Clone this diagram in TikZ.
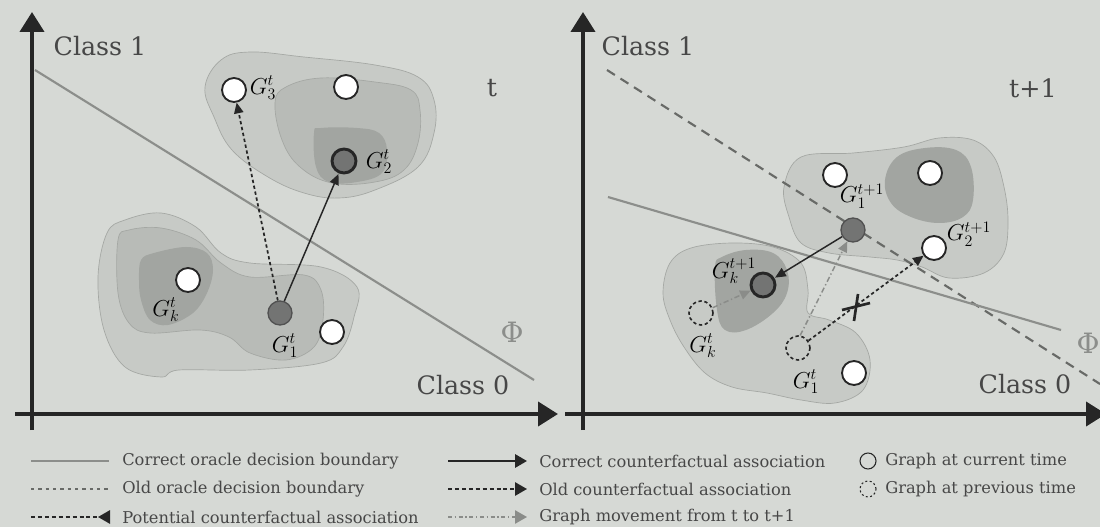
\documentclass[tikz,border=0pt]{standalone}
\usepackage{fontspec}
\setmainfont{DejaVu Serif}
\usetikzlibrary{arrows.meta}
\definecolor{bgc}{HTML}{D6D9D5}
\definecolor{blobouter}{HTML}{C7CAC6}
\definecolor{blobmid}{HTML}{B8BBB7}
\definecolor{blobdark}{HTML}{A2A5A1}
\definecolor{blobedge}{HTML}{A4A7A3}
\definecolor{nodedark}{HTML}{737473}
\definecolor{inkc}{HTML}{262626}
\definecolor{greyline}{HTML}{8C8E8B}
\definecolor{oldline}{HTML}{686A67}
\definecolor{movec}{HTML}{8A8C89}
\newcommand\bigtxt{\fontsize{19}{22}\selectfont}
\newcommand\lbltxt{\fontsize{16.5}{18}\selectfont}
\newcommand\legtxt{\fontsize{12.2}{14}\selectfont}
\tikzset{
  axisline/.style={line width=3pt, draw=inkc, -{Triangle[width=18pt,length=15pt]}},
  blobA/.style={fill=blobouter, draw=blobedge, line width=0.5pt},
  blobB/.style={fill=blobmid, draw=blobedge, line width=0.5pt},
  blobC/.style={fill=blobdark, draw=none},
  whitenode/.style={circle, minimum size=18pt, inner sep=0pt, fill=white, draw=inkc, line width=1.4pt},
  darknode/.style={circle, minimum size=18pt, inner sep=0pt, fill=nodedark, draw=inkc!80, line width=1pt},
  darkthick/.style={circle, minimum size=18pt, inner sep=0pt, fill=nodedark, draw=inkc, line width=2.2pt},
  prevnode/.style={circle, minimum size=18pt, inner sep=0pt, draw=inkc, line width=1.2pt, dash pattern=on 2.5pt off 2pt},
  glabel/.style={inner sep=0pt, font=\lbltxt},
  bigtext/.style={inner sep=0pt, font=\bigtxt, text=inkc!85},
  legtext/.style={inner sep=0pt, anchor=west, font=\legtxt, text=inkc!85},
  corrbound/.style={draw=greyline, line width=1.6pt},
  oldbound/.style={draw=oldline, line width=1.6pt, dash pattern=on 7pt off 5pt},
  corrassoc/.style={draw=inkc, line width=1.1pt, -{Triangle[width=7pt,length=8pt]}, shorten >=0.5pt},
  oldassoc/.style={draw=inkc, line width=1.3pt, dash pattern=on 2.5pt off 2pt, -{Triangle[width=7pt,length=8pt]}},
  moveassoc/.style={draw=movec, line width=1.1pt, dash pattern=on 4pt off 2pt on 1pt off 2pt, -{Triangle[width=7pt,length=8pt]}},
  legarrow/.style={-{Triangle[width=10pt,length=9pt]}},
}
\begin{document}
\begin{tikzpicture}[x=0.75pt,y=-0.75pt]
\fill[bgc] (0,0) rectangle (1100,527);
\useasboundingbox (0,0) rectangle (1100,527);

% ================= LEFT PANEL =================
% top blob
\path[blobA] plot[smooth cycle, tension=0.65] coordinates {(205,87) (221,60) (250,52) (304,57) (375,65) (418,77) (434,100) (434,133) (418,167) (375,190) (339,198) (304,193) (268,177) (232,150) (214,117)};
\path[blobB] plot[smooth cycle, tension=0.65] coordinates {(275,103) (286,87) (321,78) (375,82) (411,90) (420,110) (418,143) (404,170) (375,182) (332,183) (300,167) (282,140)};
\path[blobC] plot[smooth cycle, tension=0.65] coordinates {(314,133) (321,128) (357,128) (379,133) (387,150) (382,173) (357,182) (329,182) (316,167)};
% bottom blob
\path[blobA] plot[smooth cycle, tension=0.6] coordinates {(98,277) (107,233) (125,220) (161,213) (196,227) (221,253) (250,263) (321,267) (357,287) (354,317) (343,347) (321,363) (250,370) (179,370) (161,377) (125,367) (104,330)};
\path[blobB] plot[smooth cycle, tension=0.6] coordinates {(118,240) (129,230) (161,228) (196,240) (221,263) (250,277) (304,275) (321,290) (323,320) (314,347) (286,360) (250,353) (229,337) (200,330) (150,333) (129,323) (118,293)};
\path[blobC] plot[smooth cycle, tension=0.6] coordinates {(141,260) (154,253) (186,247) (207,253) (213,270) (207,293) (193,313) (168,325) (150,320) (141,300) (139,280)};

% boundary
\coordinate (lb1) at (35,70);
\coordinate (lb2) at (534,380);
\draw[corrbound] (lb1) -- (lb2);

% axes
\coordinate (lyo) at (32,430);
\coordinate (lyt) at (32,12);
\coordinate (lxo) at (15,414);
\coordinate (lxt) at (558,414);
\draw[axisline] (lyo) -- (lyt);
\draw[axisline] (lxo) -- (lxt);

% texts
\node[bigtext] (lc1) at (100,46) {Class 1};
\node[bigtext] (lc0) at (463,385) {Class 0};
\node[bigtext] (lt) at (492,88) {t};
\node[inner sep=0pt, font=\fontsize{21}{22}\selectfont, text=greyline] (lphi) at (512,332) {Φ};

% nodes
\node[whitenode] (n3) at (234,90) {};
\node[whitenode] (nw) at (346,87) {};
\node[darkthick] (n2) at (344,161) {};
\node[whitenode] (nk) at (188,280) {};
\node[darknode] (n1) at (280,313) {};
\node[whitenode] (nw2) at (332,332) {};

\node[glabel] (l3) at (263,88) {$G^t_3$};
\node[glabel] (l2) at (379,162) {$G^t_2$};
\node[glabel] (lk) at (166,310) {$G^t_k$};
\node[glabel] (l1) at (285,346) {$G^t_1$};

\draw[oldassoc] (n1.100) -- (n3);
\draw[corrassoc] (n1.70) -- (n2);

% ================= RIGHT PANEL =================
\path[blobA] plot[smooth cycle, tension=0.6] coordinates {(784,187) (801,157) (853,153) (904,147) (939,138) (973,140) (994,157) (1004,187) (1008,220) (1004,253) (984,273) (949,278) (922,267) (897,260) (870,257) (829,253) (801,243) (789,217)};
\path[blobC] plot[smooth cycle, tension=0.65] coordinates {(885,180) (897,157) (925,148) (956,150) (971,167) (973,200) (963,217) (939,223) (911,217) (891,203)};
\path[blobA] plot[smooth cycle, tension=0.6] coordinates {(663,293) (670,263) (691,248) (732,243) (773,247) (801,263) (808,290) (808,313) (829,320) (856,333) (870,360) (863,390) (835,403) (801,400) (767,393) (732,387) (705,373) (684,347) (670,320)};
\path[blobC] plot[smooth cycle, tension=0.65] coordinates {(715,267) (722,257) (746,250) (773,253) (787,270) (787,293) (773,313) (746,330) (725,330) (717,310)};

% boundaries
\coordinate (rob1) at (607,70);
\coordinate (rob2) at (1100,384);
\draw[oldbound] (rob1) -- (rob2);
\coordinate (rcb1) at (608,197);
\coordinate (rcb2) at (1061,330);
\draw[corrbound] (rcb1) -- (rcb2);

% axes
\coordinate (ryo) at (583,430);
\coordinate (ryt) at (583,12);
\coordinate (rxo) at (565,414);
\coordinate (rxt) at (1106,414);
\draw[axisline] (ryo) -- (ryt);
\draw[axisline] (rxo) -- (rxt);

\node[bigtext] (rc1) at (648,46) {Class 1};
\node[bigtext] (rc0) at (1025,384) {Class 0};
\node[bigtext] (rt) at (1033,88) {t+1};
\node[inner sep=0pt, font=\fontsize{21}{22}\selectfont, text=greyline] (rphi) at (1088,343) {Φ};

% nodes
\node[whitenode] (rw1) at (835,175) {};
\node[whitenode] (rw2) at (930,173) {};
\node[darknode] (r1) at (853,230) {};
\node[whitenode] (r2) at (934,248) {};
\node[darkthick] (rk) at (763,285) {};
\node[prevnode] (rkold) at (701,313) {};
\node[prevnode] (r1old) at (798,348) {};
\node[whitenode] (rw3) at (854,373) {};

\node[glabel] (rl1) at (862,196) {$G^{t+1}_1$};
\node[glabel] (rl2) at (969,234) {$G^{t+1}_2$};
\node[glabel] (rlk) at (734,271) {$G^{t+1}_k$};
\node[glabel] (rlkold) at (703,346) {$G^{t}_k$};
\node[glabel] (rl1old) at (806,382) {$G^{t}_1$};

\draw[moveassoc] (rkold) -- (rk);
\draw[moveassoc] (r1old.80) -- (r1);
\draw[oldassoc] (r1old.35) -- (r2);
\draw[corrassoc] (r1) -- (rk);

% cross
\coordinate (cx1) at (858,294);
\coordinate (cx2) at (854,321);
\coordinate (cx3) at (842,310);
\coordinate (cx4) at (870,303);
\draw[inkc, line width=2pt] (cx1) -- (cx2);
\draw[inkc, line width=2pt] (cx3) -- (cx4);

% ================= LEGEND =================
\coordinate (a1) at (31,461); \coordinate (b1) at (109,461);
\draw[corrbound] (a1) -- (b1);
\node[legtext] (t1) at (122,461) {Correct oracle decision boundary};
\coordinate (a2) at (31,489); \coordinate (b2) at (109,489);
\draw[draw=oldline, line width=0.9pt, dash pattern=on 2.5pt off 3pt] (a2) -- (b2);
\node[legtext] (t2) at (122,489) {Old oracle decision boundary};
\coordinate (a3) at (31,517); \coordinate (b3) at (110,517);
\draw[draw=inkc, line width=1.4pt, dash pattern=on 3pt off 2.2pt, -{Triangle[width=10pt,length=9pt,reversed]}] (a3) -- (b3);
\node[legtext] (t3) at (122,517) {Potential counterfactual association};

\coordinate (a4) at (448,461); \coordinate (b4) at (527,461);
\draw[draw=inkc, line width=1.6pt, legarrow] (a4) -- (b4);
\node[legtext] (t4) at (539,461) {Correct counterfactual association};
\coordinate (a5) at (448,489); \coordinate (b5) at (527,489);
\draw[draw=inkc, line width=1.4pt, dash pattern=on 3pt off 2.2pt, legarrow] (a5) -- (b5);
\node[legtext] (t5) at (539,489) {Old counterfactual association};
\coordinate (a6) at (448,517); \coordinate (b6) at (527,517);
\draw[draw=movec, line width=1.1pt, dash pattern=on 3pt off 2pt on 1pt off 2pt, legarrow] (a6) -- (b6);
\node[legtext] (t6) at (539,517) {Graph movement from t to t+1};

\node[circle, minimum size=12pt, inner sep=0pt, draw=inkc, line width=0.8pt] (c7) at (868,461) {};
\node[legtext] (t7) at (885,461) {Graph at current time};
\node[circle, minimum size=12pt, inner sep=0pt, draw=inkc, line width=0.8pt, dash pattern=on 1.5pt off 1.8pt] (c8) at (868,489) {};
\node[legtext] (t8) at (885,489) {Graph at previous time};
\end{tikzpicture}
\end{document}
